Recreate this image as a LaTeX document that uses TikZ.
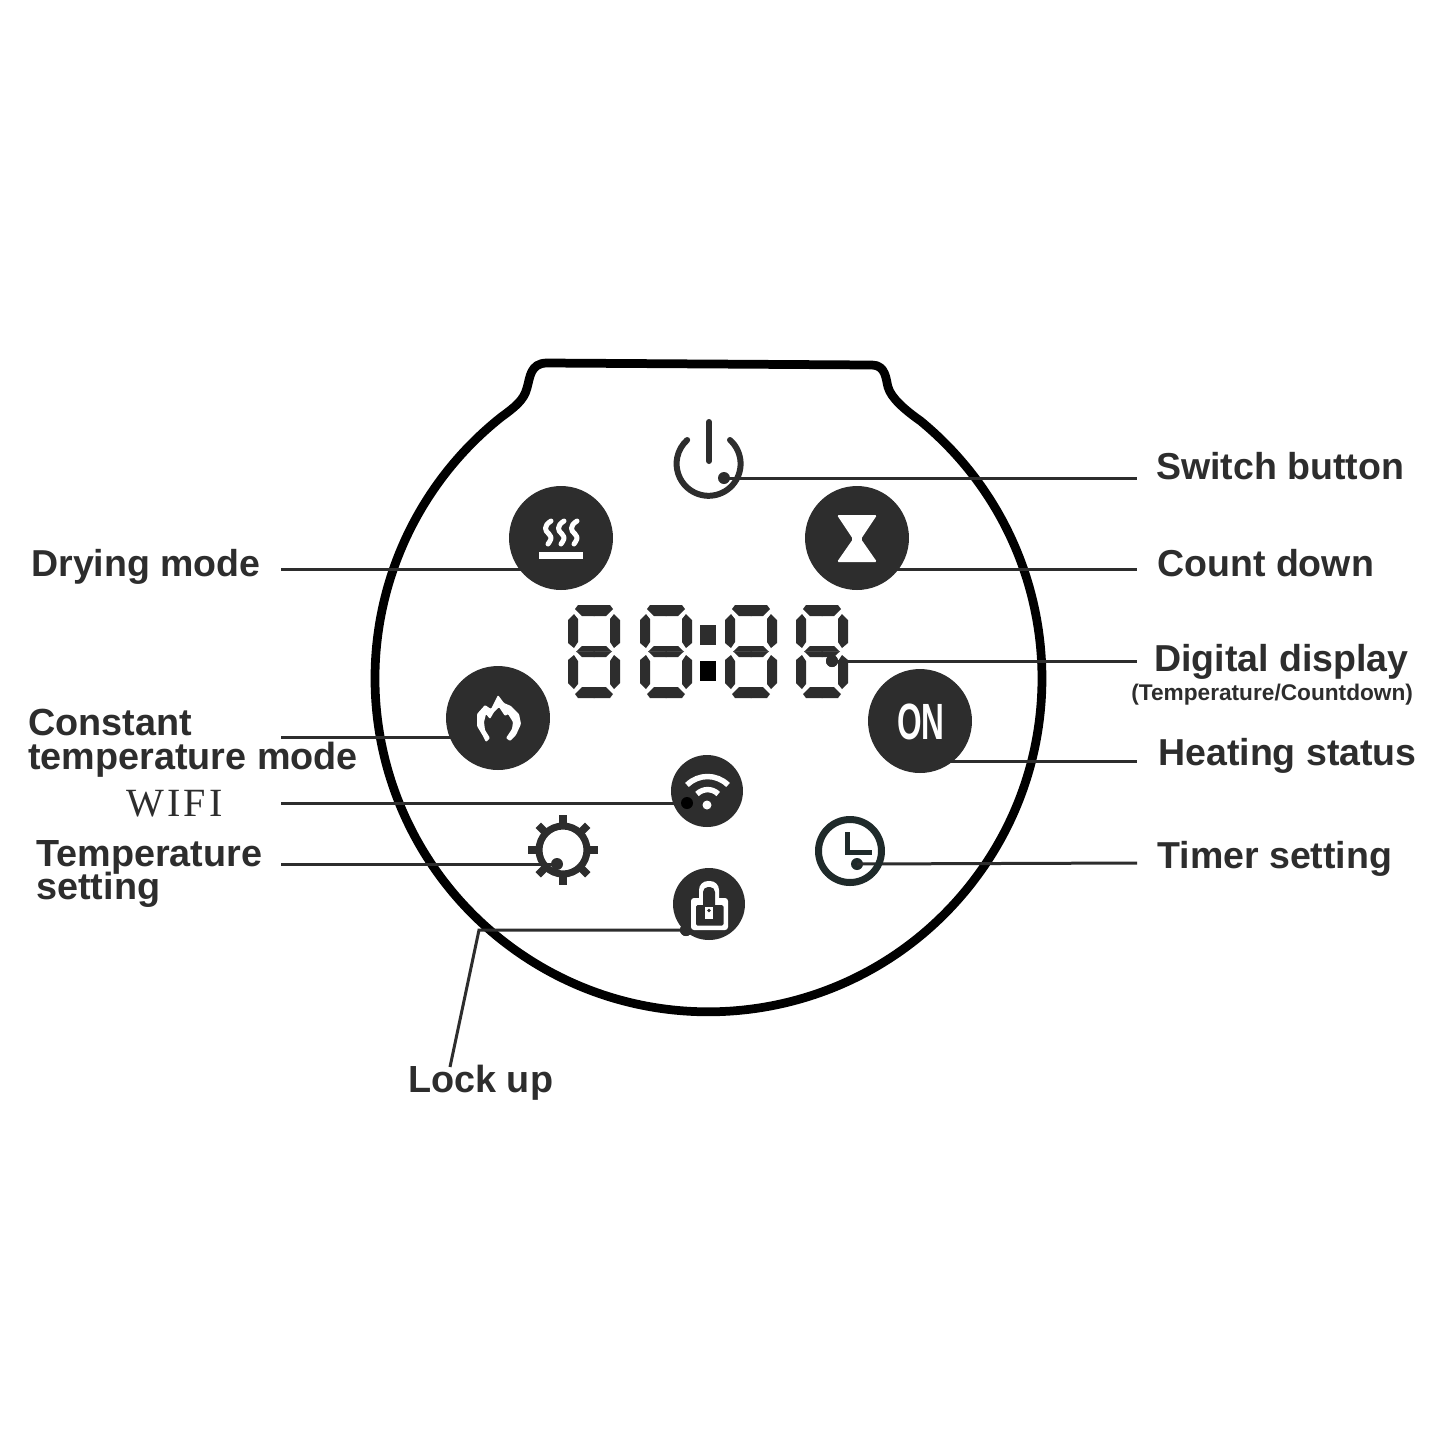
\documentclass[tikz,border=0pt]{standalone}
\usepackage{fontspec}
\setmainfont{Liberation Sans}
\newfontfamily\wififont[LetterSpace=8]{Liberation Serif}
\definecolor{ink}{HTML}{2D2D2D}
\definecolor{clockink}{HTML}{1F2A2A}
\newcommand{\tagfont}[1]{\fontsize{#1}{19.2}\selectfont\bfseries\lineskiplimit=-20pt\relax}

\begin{document}
\begin{tikzpicture}[x=0.02cm, y=-0.02cm]
        \tikzstyle{tag} = [inner sep=0pt, text=ink, font=\tagfont{21.35}, align=left];
        \tikzstyle{tagwide} = [tag, font=\tagfont{21.5}];
        \tikzstyle{leader} = [draw=ink, line width=0.06cm];
        \tikzstyle{bigbtn} = [circle, fill=ink, inner sep=0pt, minimum size=2.08cm];
        \tikzstyle{smallbtn} = [circle, fill=ink, inner sep=0pt, minimum size=1.44cm];
        \tikzstyle{dot} = [circle, fill=ink, inner sep=0pt, minimum size=0.24cm];
        \tikzstyle{glyph} = [draw=white, line width=0.1cm, line cap=round, line join=round];
        \tikzstyle{iconline} = [draw=ink, line width=0.12cm, line cap=round];

        \useasboundingbox (0,0) rectangle (1445,1445);
        \fill[white] (0,0) rectangle (1445,1445);

        % housing
        \draw[black, line width=0.175cm, line join=round] (920.6,421) arc[start angle=-50.5, end angle=231.6, radius=333.5]
            .. controls (515,407) and (524,400) .. (527,388)
            .. controls (530,378) and (530,363) .. (547,363) -- (872,365)
            .. controls (886,365) and (886,380) .. (888,387)
            .. controls (891,398) and (905,410) .. cycle;

        % labels
        \node(switchtag) [tag, anchor=base west] at (1156,479) {Switch button};
        \node(dryingtag) [tag, anchor=base west] at (31,576) {Drying mode};
        \node(counttag) [tag, anchor=base west] at (1157,576) {Count down};
        \node(digitaltag) [tag, anchor=base west] at (1154,671) {Digital display};
        \node(digitalsub) [tag, anchor=base west, font=\fontsize{12.9}{15}\selectfont\bfseries] at (1131,700) {(Temperature/Countdown)};
        \node(constanttag) [tagwide, anchor=west] at (28,743) {Constant\\temperature mode};
        \node(heatingtag) [tag, anchor=base west] at (1158,765) {Heating status};
        \node(wifitag) [tag, anchor=base west, font=\fontsize{22.8}{25}\wififont] at (126,816) {WIFI};
        \node(temptag) [tagwide, anchor=west] at (36,874) {Temperature\\setting};
        \node(timertag) [tag, anchor=base west] at (1157,868) {Timer setting};
        \node(locktag) [tagwide, anchor=base west] at (408,1092) {Lock up};

        % free ends of the leaders
        \coordinate (switchend) at (1137,478);
        \coordinate (countend) at (1137,569);
        \coordinate (digitalend) at (1137,661);
        \coordinate (heatingend) at (1137,761);
        \coordinate (timerend) at (1137,863);
        \coordinate (dryingend) at (281,569);
        \coordinate (constantend) at (281,737);
        \coordinate (wifiend) at (281,803);
        \coordinate (tempend) at (281,864);
        \coordinate (lockbend) at (479,930);
        \coordinate (lockend) at (450,1067);
        \coordinate (dryingin) at (530,569);
        \coordinate (countin) at (885,569);
        \coordinate (constantin) at (470,737);
        \coordinate (heatingin) at (935,761);

        % dots on the controls
        \node(powerdot) [dot] at (724,478) {};
        \node(digitaldot) [dot] at (832,661) {};
        \node(wifidot) [dot, fill=black] at (687,803) {};
        \node(tempdot) [dot] at (557,864) {};
        \node(lockdot) [dot] at (686,930) {};
        \node(timerdot) [dot, fill=clockink] at (857,864) {};

        \draw[leader] (powerdot.center) -- (switchend);
        \draw[leader] (countin) -- (countend);
        \draw[leader] (digitaldot.center) -- (digitalend);
        \draw[leader] (heatingin) -- (heatingend);
        \draw[leader] (timerdot.center) -- (timerend);
        \draw[leader] (dryingend) -- (dryingin);
        \draw[leader] (constantend) -- (constantin);
        \draw[leader] (wifiend) -- (wifidot.center);
        \draw[leader] (tempend) -- (tempdot.center);
        \draw[leader] (lockend) -- (lockbend) -- (lockdot.center);

        % buttons
        \node(drying) [bigbtn] at (561,538) {};
        \node(count) [bigbtn] at (857,538) {};
        \node(constant) [bigbtn] at (498,718) {};
        \node(heating) [bigbtn] at (920,721) {};
        \node(wifi) [smallbtn] at (707,791) {};
        \node(lockbtn) [smallbtn] at (709,904) {};
        \node[dot, fill=black] at (wifidot) {};
        \node[dot] at (lockdot) {};

        % power symbol
        \draw[iconline] (730,440) arc[start angle=-48, end angle=228, radius=32];
        \draw[iconline] (709,422) -- (709,461);

        % steam
        \foreach \sx in {548,561,574} {
            \draw[glyph] (\sx+3,521) .. controls (\sx-5,526) and (\sx-3,531) .. (\sx+1,534)
                .. controls (\sx+5,538) and (\sx+2,541) .. (\sx,544);
        }
        \fill[white] (539,552) rectangle (583,558.5);

        % hourglass
        \fill[white, rounded corners=0.03cm] (837,515) -- (877,515) -- (861,539) -- (877,562) -- (837,562) -- (853,539) -- cycle;

        % flame
        \fill[white, rounded corners=0.02cm] (498,695) -- (504,703) -- (511,706) -- (519,714) -- (521,724) -- (516,735) -- (510,741)
            -- (506,738) -- (512,729) -- (513,722) -- (508,714) -- (505,716) -- (499,707) -- (494,712) -- (490,719) -- (486,714)
            -- (484,722) -- (485,730) -- (490,738) -- (486,742) -- (483,736) -- (477,726) -- (477,714) -- (485,705) -- (491,709) -- cycle;

        % on
        \node(ontext) [inner sep=0pt, text=white, font=\fontsize{29}{30}\selectfont\bfseries] at (921,722) {\scalebox{0.62}[1]{ON}};

        % wifi
        \draw[glyph, line width=0.11cm, line cap=butt] (687,785) arc[start angle=-135, end angle=-45, radius=29];
        \draw[glyph, line width=0.11cm, line cap=butt] (697,794) arc[start angle=-135, end angle=-45, radius=15];
        \fill[white] (707,805) circle (4.5);

        % lock
        \fill[white, rounded corners=0.06cm] (691,898) rectangle (728,930);
        \fill[white, rounded corners=0.18cm] (699,881) rectangle (719,910);
        \fill[ink, rounded corners=0.03cm] (696,905) rectangle (723.5,925.5);
        \fill[ink, rounded corners=0.1cm] (703,887) rectangle (715,910);
        \fill[white] (705,907) rectangle (713,919);
        \fill[ink] (709,910.5) circle (1.8);

        % clock
        \draw[clockink, line width=0.14cm] (850,851) circle (31.5);
        \draw[clockink, line width=0.1cm] (847,832) -- (847,852) -- (872,852);

        % gear
        \draw[ink, line width=0.14cm] (563,850) circle (24);
        \foreach \ang in {0,45,...,315} {
            \draw[ink, line width=0.15cm] (563,850) ++(\ang:24) -- ++(\ang:11);
        }

        % display
        \foreach \dx in {568,640,725,796} {
            \foreach \sx/\ox in {1/0,-1/52} {
                \foreach \sy/\oy in {1/0,-1/93} {
                    \begin{scope}[shift={(\dx+\ox,605+\oy)}, xscale=\sx, yscale=\sy]
                        \fill[ink] (0,15) -- (6,9) -- (10,14) -- (10,37) -- (6,43) -- (0,38) -- cycle;
                        \fill[ink] (26.5,0) -- (10,0) -- (7,4) -- (14,11) -- (26.5,11) -- cycle;
                        \fill[ink] (26.5,41) -- (14,41) -- (8,46.7) -- (26.5,46.7) -- cycle;
                    \end{scope}
                }
            }
        }
        \fill[ink] (700,625) rectangle (716,645);
        \fill[black] (700,661) rectangle (716,681);
        \node[dot] at (digitaldot) {};

    \end{tikzpicture}
\end{document}
